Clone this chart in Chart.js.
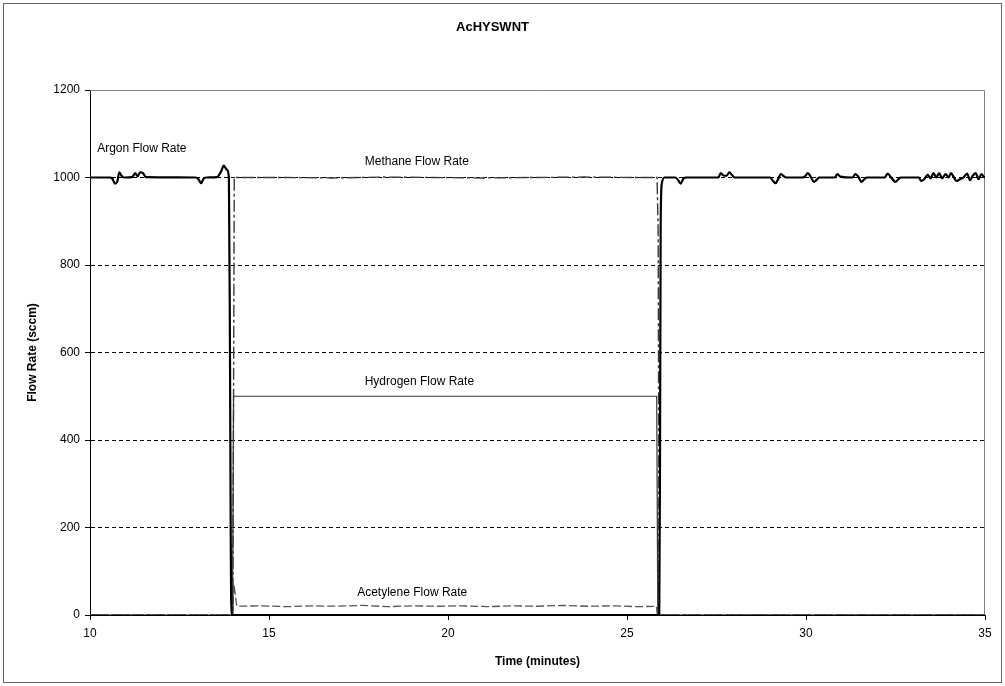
<!DOCTYPE html>
<html>
<head>
<meta charset="utf-8">
<title>AcHYSWNT</title>
<script src="https://cdn.jsdelivr.net/npm/chart.js@4/dist/chart.umd.min.js"></script>
<style>
  html, body { margin: 0; padding: 0; background: #fff; }
  #wrap { width: 1005px; height: 686px; position: relative; }
</style>
</head>
<body>
<div id="wrap"><canvas id="chart" width="1005" height="686"></canvas></div>
<script>
// Gas flow rates (sccm) versus time (minutes)
const argonTime = [10, 10.55, 10.62, 10.7, 10.76, 10.82, 10.88, 10.95, 11.18, 11.26, 11.33, 11.4, 11.48, 11.56,
  12.95, 13.03, 13.1, 13.18, 13.26, 13.55, 13.65, 13.74, 13.82, 13.88, 13.91, 13.93, 13.95, 14.0,
  25.9, 25.92, 25.94, 25.97, 26.05, 26.35, 26.42, 26.5, 26.58, 26.65, 27.55, 27.62, 27.7, 27.78, 27.86, 27.94, 28.0,
  29.0, 29.08, 29.15, 29.22, 29.3, 29.38, 29.45, 29.9, 29.98, 30.05, 30.13, 30.22, 30.3, 30.36,
  30.8, 30.88, 30.96, 31.3, 31.38, 31.46, 31.55, 31.63, 31.7, 32.2, 32.28, 32.36, 32.5, 32.58, 32.65,
  33.15, 33.22, 33.3, 33.4, 33.48, 33.56, 33.64, 33.72, 33.8, 33.9, 33.98, 34.05, 34.12, 34.2, 34.3, 34.4,
  34.5, 34.58, 34.66, 34.74, 34.82, 34.9, 34.96, 35.0];
const argonFlow = [1000, 1000, 998, 986, 990, 1012, 1004, 1000, 1001, 1010, 1003, 1012, 1010, 1001,
  1000, 996, 987, 998, 1000, 1001, 1012, 1027, 1018, 1000, 600, 200, 0, 0,
  0, 300, 880, 985, 1000, 1000, 995, 986, 998, 1000, 1000, 1010, 1004, 1004, 1012, 1005, 1000,
  1000, 992, 987, 996, 1008, 1003, 1000, 1000, 1003, 1010, 1002, 990, 995, 1000,
  1000, 1008, 1002, 1000, 1008, 1002, 990, 996, 1000, 1000, 1009, 1002, 990, 996, 1000,
  1000, 992, 996, 1006, 998, 1010, 1000, 1010, 998, 1008, 1000, 1010, 1002, 992, 996, 1000,
  1009, 994, 1004, 1010, 996, 1008, 1002, 1000];

const methaneTime = [10, 13.99, 14.03, 15.5, 16.8, 18.2, 19.6, 21.0, 22.4, 23.8, 25.2, 25.84, 25.87, 25.9, 35];
const methaneFlow = [0, 0, 1000, 1000, 999, 1001, 1000, 999, 1000, 1001, 1000, 1000, 880, 0, 0];

const hydrogenTime = [10, 13.98, 14.01, 25.83, 25.86, 35];
const hydrogenFlow = [0, 0, 500, 500, 0, 0];

const acetyleneTime = [10, 13.99, 14.02, 14.1, 14.8, 15.5, 16.2, 16.9, 17.6, 18.3, 19.0, 19.7, 20.4, 21.1,
  21.8, 22.5, 23.2, 23.9, 24.6, 25.3, 25.82, 25.85, 35];
const acetyleneFlow = [0, 0, 70, 20, 21, 19, 21, 20, 22, 19, 21, 20, 21, 19, 21, 20, 22, 20, 21, 19, 20, 0, 0];

const seriesNames = ['Argon Flow Rate', 'Methane Flow Rate', 'Hydrogen Flow Rate', 'Acetylene Flow Rate'];
// Series label anchors in data units: [time, flow, alignment]
const labelTime = [10.2, 19.13, 19.2, 19.0];
const labelFlow = [1066, 1037, 534, 52];
const labelAlign = ['left', 'center', 'center', 'center'];

const xTicks = [10, 15, 20, 25, 30, 35];
const yTicks = [0, 200, 400, 600, 800, 1000, 1200];

const toPoints = (t, v) => t.map((x, i) => ({ x: x, y: v[i] }));

const FONT = '"Liberation Sans", Arial, sans-serif';

const frame = {
  id: 'frame',
  beforeDraw(chart) {
    const ctx = chart.ctx;
    ctx.save();
    ctx.fillStyle = '#fff';
    ctx.fillRect(0, 0, chart.width, chart.height);
    ctx.strokeStyle = '#666';
    ctx.lineWidth = 1;
    ctx.strokeRect(3.5, 3.5, chart.width - 7, chart.height - 7);
    ctx.restore();
  },
  beforeDatasetsDraw(chart) {
    const a = chart.chartArea;
    const ctx = chart.ctx;
    ctx.save();
    ctx.strokeStyle = '#808080';
    ctx.lineWidth = 1;
    ctx.beginPath();
    ctx.moveTo(a.left, a.top + 0.5);
    ctx.lineTo(a.right - 0.5, a.top + 0.5);
    ctx.lineTo(a.right - 0.5, a.bottom);
    ctx.stroke();
    ctx.restore();
  },
  afterDatasetsDraw(chart) {
    const ctx = chart.ctx;
    const xs = chart.scales.x, ys = chart.scales.y;
    ctx.save();
    ctx.fillStyle = '#000';
    ctx.font = '12px ' + FONT;
    ctx.textBaseline = 'middle';
    seriesNames.forEach((name, i) => {
      ctx.textAlign = labelAlign[i];
      ctx.fillText(name, xs.getPixelForValue(labelTime[i]), ys.getPixelForValue(labelFlow[i]));
    });
    ctx.restore();
  }
};

new Chart(document.getElementById('chart'), {
  type: 'scatter',
  data: {
    datasets: [
      {
        label: seriesNames[0],
        data: toPoints(argonTime, argonFlow),
        showLine: true,
        borderColor: '#000',
        borderWidth: 2.2,
        pointRadius: 0,
        cubicInterpolationMode: 'monotone'
      },
      {
        label: seriesNames[1],
        data: toPoints(methaneTime, methaneFlow),
        showLine: true,
        borderColor: '#3a3a3a',
        borderWidth: 1.4,
        borderDash: [12, 3, 3, 3],
        pointRadius: 0
      },
      {
        label: seriesNames[2],
        data: toPoints(hydrogenTime, hydrogenFlow),
        showLine: true,
        borderColor: '#333',
        borderWidth: 1.2,
        pointRadius: 0
      },
      {
        label: seriesNames[3],
        data: toPoints(acetyleneTime, acetyleneFlow),
        showLine: true,
        borderColor: '#555',
        borderWidth: 1.3,
        borderDash: [8, 3],
        pointRadius: 0
      }
    ]
  },
  options: {
    responsive: false,
    animation: false,
    devicePixelRatio: 1,
    layout: { padding: { left: 0, right: 20, top: 0, bottom: 0 } },
    plugins: {
      legend: { display: false },
      tooltip: { enabled: false },
      title: {
        display: true,
        text: 'AcHYSWNT',
        color: '#000',
        font: { family: FONT, size: 13, weight: 'bold', lineHeight: '16px' },
        padding: { top: 19, bottom: 55 }
      }
    },
    scales: {
      x: {
        type: 'linear',
        min: xTicks[0],
        max: xTicks[xTicks.length - 1],
        afterBuildTicks: s => { s.ticks = xTicks.map(v => ({ value: v })); },
        afterFit: s => { s.height = 71; },
        ticks: { color: '#000', font: { family: FONT, size: 12 }, padding: 6, maxRotation: 0,
                 callback: v => String(v) },
        grid: { drawOnChartArea: false, drawTicks: true, tickLength: 5, tickColor: '#000', tickWidth: 1 },
        border: { display: true, color: '#000', width: 1 },
        title: {
          display: true,
          text: 'Time (minutes)',
          color: '#000',
          font: { family: FONT, size: 12, weight: 'bold', lineHeight: '14px' },
          padding: { top: 0, bottom: 17 }
        }
      },
      y: {
        type: 'linear',
        min: yTicks[0],
        max: yTicks[yTicks.length - 1],
        afterBuildTicks: s => { s.ticks = yTicks.map(v => ({ value: v })); },
        afterFit: s => { s.width = 90; },
        ticks: { color: '#000', font: { family: FONT, size: 12 }, padding: 5,
                 callback: v => String(v) },
        grid: {
          drawTicks: true,
          tickLength: 5,
          tickColor: '#000',
          tickWidth: 1,
          tickBorderDash: [],
          lineWidth: 1,
          color: ctx => (ctx.tick && (ctx.tick.value === 0 || ctx.tick.value === 1200)) ? 'rgba(0,0,0,0)' : '#000'
        },
        border: { display: true, color: '#000', width: 1, dash: [4, 3] },
        title: {
          display: true,
          text: 'Flow Rate (sccm)',
          color: '#000',
          font: { family: FONT, size: 12, weight: 'bold', lineHeight: '14px' },
          padding: { top: 26, bottom: 0 }
        }
      }
    }
  },
  plugins: [frame]
});
</script>
</body>
</html>
